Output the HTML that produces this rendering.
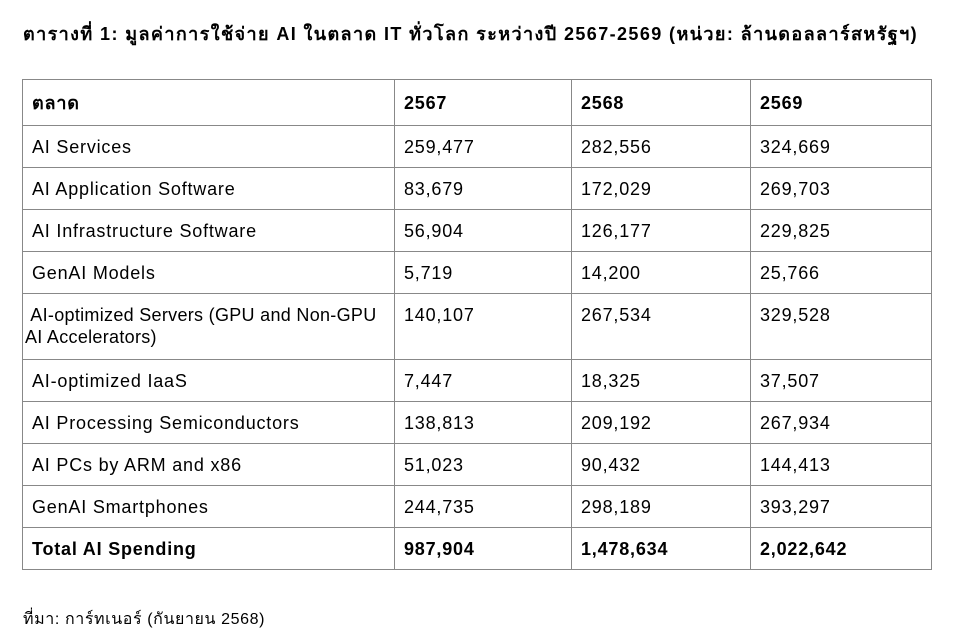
<!DOCTYPE html>
<html><head><meta charset="utf-8">
<style>
body{margin:0;width:955px;height:640px;background:#fff;font-family:"Liberation Sans","DejaVu Sans",sans-serif;color:#000;position:relative;overflow:hidden}
#title{position:absolute;left:23px;top:19px;font-size:18px;font-weight:bold;white-space:nowrap;letter-spacing:1.4px}
table{position:absolute;left:22px;top:79px;border-collapse:collapse;font-size:18px;letter-spacing:0.8px}
td{border:1px solid #888;padding:0 0 0 9px;vertical-align:top;line-height:22px;padding-top:10px;box-sizing:border-box;white-space:nowrap}
tr{height:42px}
tr.h{height:46px}tr.h td{padding-top:12px;font-weight:bold}
tr.two{height:66px}
tr.t td{font-weight:bold}
#src{position:absolute;left:23px;top:607px;font-size:16px;letter-spacing:0.6px}
</style></head><body>
<div id="title">ตารางที่ 1: มูลค่าการใช้จ่าย AI ในตลาด IT ทั่วโลก ระหว่างปี 2567-2569 (หน่วย: ล้านดอลลาร์สหรัฐฯ)</div>
<table>
<colgroup><col style="width:372px"><col style="width:177px"><col style="width:179px"><col style="width:181px"></colgroup>
<tr class="h"><td>ตลาด</td><td>2567</td><td>2568</td><td>2569</td></tr>
<tr><td>AI Services</td><td>259,477</td><td>282,556</td><td>324,669</td></tr>
<tr><td>AI Application Software</td><td>83,679</td><td>172,029</td><td>269,703</td></tr>
<tr><td>AI Infrastructure Software</td><td>56,904</td><td>126,177</td><td>229,825</td></tr>
<tr><td>GenAI Models</td><td>5,719</td><td>14,200</td><td>25,766</td></tr>
<tr class="two"><td style="padding-left:2px;letter-spacing:0.3px">&nbsp;AI-optimized Servers (GPU and Non-GPU<br>AI Accelerators)</td><td>140,107</td><td>267,534</td><td>329,528</td></tr>
<tr><td>AI-optimized IaaS</td><td>7,447</td><td>18,325</td><td>37,507</td></tr>
<tr><td>AI Processing Semiconductors</td><td>138,813</td><td>209,192</td><td>267,934</td></tr>
<tr><td>AI PCs by ARM and x86</td><td>51,023</td><td>90,432</td><td>144,413</td></tr>
<tr><td>GenAI Smartphones</td><td>244,735</td><td>298,189</td><td>393,297</td></tr>
<tr class="t"><td>Total AI Spending</td><td>987,904</td><td>1,478,634</td><td>2,022,642</td></tr>
</table>
<div id="src">ที่มา: การ์ทเนอร์ (กันยายน 2568)</div>
</body></html>
